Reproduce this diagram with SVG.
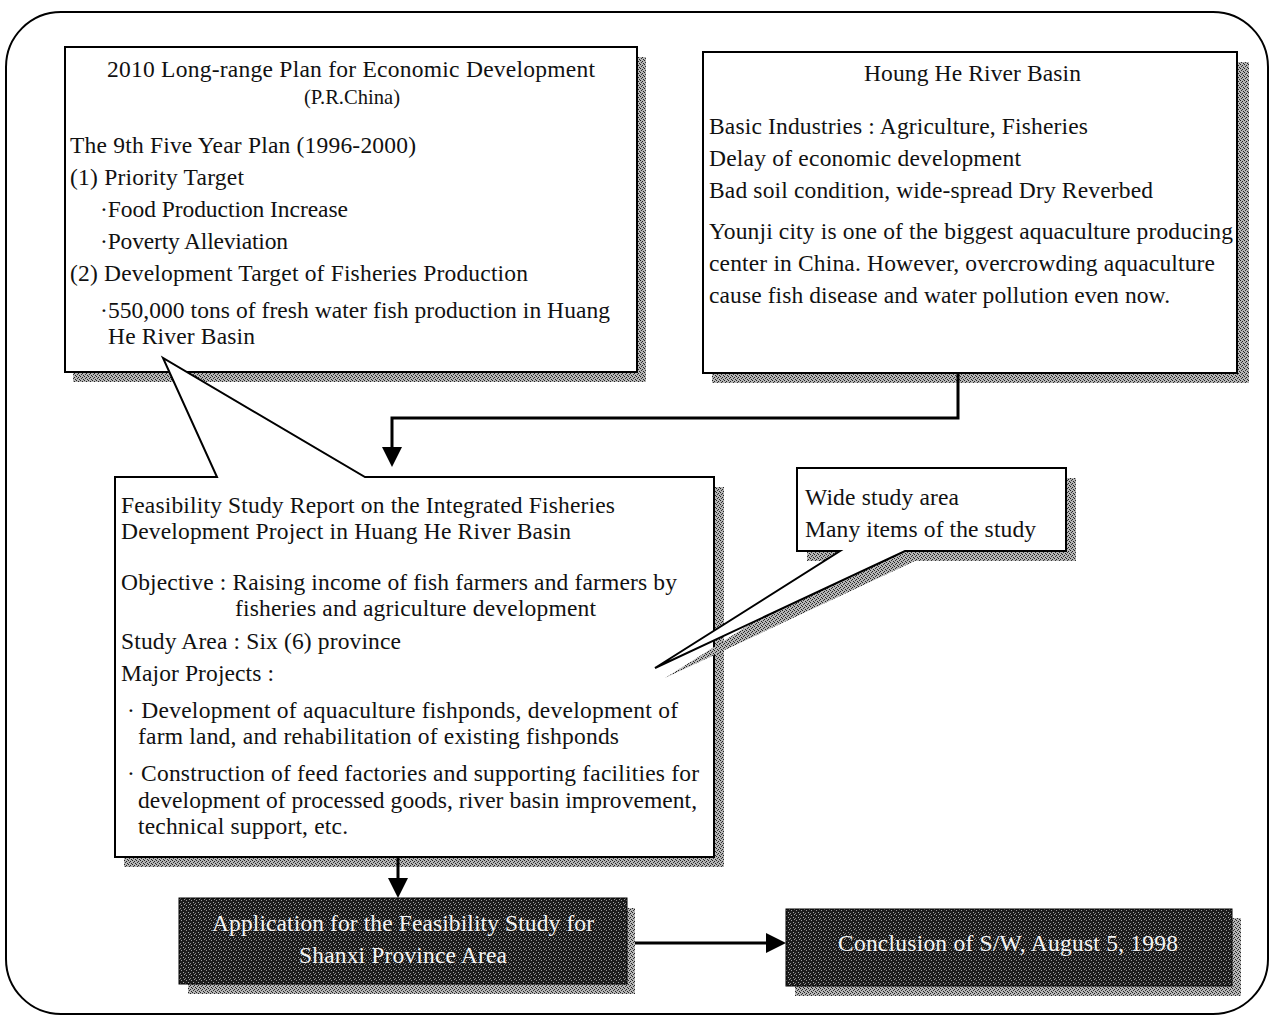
<svg xmlns="http://www.w3.org/2000/svg" width="1273" height="1017" viewBox="0 0 1273 1017">
<defs>
<style>
.t{font-family:"Liberation Serif","Times New Roman",serif;font-size:23.5px;fill:#111;}
.w{fill:#f4f4f4;}
.box{fill:#fff;stroke:#000;stroke-width:2;}
.conn{fill:none;stroke:#000;stroke-width:3;}
.frame{fill:#fff;stroke:#000;stroke-width:2;}
</style>
<pattern id="sh" width="4" height="4" patternUnits="userSpaceOnUse">
<rect width="4" height="4" fill="#b5b5b5"/>
<rect x="0" y="0" width="1" height="1" fill="#222"/>
<rect x="2" y="1" width="1" height="1" fill="#222"/>
<rect x="1" y="2" width="1" height="1" fill="#333"/>
<rect x="3" y="3" width="1" height="1" fill="#222"/>
</pattern>
<pattern id="dk" width="5" height="5" patternUnits="userSpaceOnUse">
<rect width="5" height="5" fill="#1c1c1c"/>
<rect x="1" y="0" width="1" height="1" fill="#9a9a9a"/>
<rect x="3" y="2" width="1" height="1" fill="#a5a5a5"/>
<rect x="0" y="3" width="1" height="1" fill="#8a8a8a"/>
<rect x="4" y="4" width="1" height="1" fill="#9a9a9a"/>
</pattern>
<marker id="ah" viewBox="0 0 20 20" refX="10" refY="10" markerWidth="20" markerHeight="20" markerUnits="userSpaceOnUse" orient="auto">
<path d="M0,0 L20,10 L0,20 Z" fill="#000"/>
</marker>
</defs>

<rect class="frame" x="6" y="12" width="1262" height="1002" rx="55" ry="55"/>

<g id="node-plan">
<rect x="73" y="57" width="573" height="325" fill="url(#sh)"/>
<rect class="box" x="65" y="47" width="572" height="325"/>
<text class="t" x="107" y="77" textLength="488">2010 Long-range Plan for Economic Development</text>
<text class="t" x="304" y="104" style="font-size:22px" textLength="96" lengthAdjust="spacingAndGlyphs">(P.R.China)</text>
<text class="t" x="70" y="153" textLength="346">The 9th Five Year Plan (1996-2000)</text>
<text class="t" x="70" y="185" textLength="174">(1) Priority Target</text>
<text class="t" x="100" y="217" textLength="248">·Food Production Increase</text>
<text class="t" x="100" y="249" textLength="188">·Poverty Alleviation</text>
<text class="t" x="70" y="281" textLength="458">(2) Development Target of Fisheries Production</text>
<text class="t" x="100" y="318" textLength="510">·550,000 tons of fresh water fish production in Huang</text>
<text class="t" x="108" y="344" textLength="147">He River Basin</text>
</g>

<g id="node-basin">
<rect x="712" y="62" width="537" height="321" fill="url(#sh)"/>
<rect class="box" x="703" y="52" width="534" height="321"/>
<text class="t" x="864" y="81" textLength="217">Houng He River Basin</text>
<text class="t" x="709" y="134" textLength="379">Basic Industries : Agriculture, Fisheries</text>
<text class="t" x="709" y="166" textLength="312">Delay of economic development</text>
<text class="t" x="709" y="198" textLength="444">Bad soil condition, wide-spread Dry Reverbed</text>
<text class="t" x="709" y="239" textLength="524">Younji city is one of the biggest aquaculture producing</text>
<text class="t" x="709" y="271" textLength="506">center in China. However, overcrowding aquaculture</text>
<text class="t" x="709" y="303" textLength="461">cause fish disease and water pollution even now.</text>
</g>

<g id="node-report">
<rect x="124" y="487" width="600" height="380" fill="url(#sh)"/>
<path class="box" d="M115,477 H217 L163,358 L365,477 H714 V857 H115 Z"/>
<text class="t" x="121" y="513" textLength="494">Feasibility Study Report on the Integrated Fisheries</text>
<text class="t" x="121" y="539" textLength="450">Development Project in Huang He River Basin</text>
<text class="t" x="121" y="590" textLength="556">Objective : Raising income of fish farmers and farmers by</text>
<text class="t" x="235" y="616" textLength="361">fisheries and agriculture development</text>
<text class="t" x="121" y="649" textLength="280">Study Area : Six (6) province</text>
<text class="t" x="121" y="681" textLength="153">Major Projects :</text>
<text class="t" x="127" y="718" textLength="551">· Development of aquaculture fishponds, development of</text>
<text class="t" x="138" y="744" textLength="481">farm land, and rehabilitation of existing fishponds</text>
<text class="t" x="127" y="781" textLength="572">· Construction of feed factories and supporting facilities for</text>
<text class="t" x="138" y="808" textLength="559">development of processed goods, river basin improvement,</text>
<text class="t" x="138" y="834" textLength="210">technical support, etc.</text>
</g>

<g id="node-issues">
<path d="M797,468 H1066 V551 H905 L655,668 L840,551 H797 Z" transform="translate(10,10)" fill="url(#sh)"/>
<path class="box" d="M797,468 H1066 V551 H905 L655,668 L840,551 H797 Z"/>
<text class="t" x="805" y="505" textLength="154">Wide study area</text>
<text class="t" x="805" y="537" textLength="231">Many items of the study</text>
</g>

<g id="node-application">
<rect x="188" y="908" width="447" height="86" fill="url(#sh)"/>
<rect x="179" y="898" width="448" height="86" fill="url(#dk)" stroke="#000" stroke-width="1"/>
<text class="t w" x="212" y="931" textLength="382">Application for the Feasibility Study for</text>
<text class="t w" x="299" y="963" textLength="208">Shanxi Province Area</text>
</g>

<g id="node-conclusion">
<rect x="795" y="918" width="446" height="78" fill="url(#sh)"/>
<rect x="786" y="909" width="446" height="77" fill="url(#dk)" stroke="#000" stroke-width="1"/>
<text class="t w" x="838" y="951" textLength="340">Conclusion of S/W, August 5, 1998</text>
</g>

<g id="connectors">
<path class="conn" d="M958,373 V418 H392 V457" marker-end="url(#ah)"/>
<path class="conn" d="M398,857 V888" marker-end="url(#ah)"/>
<path class="conn" d="M635,943 H776" marker-end="url(#ah)"/>
</g>
</svg>
